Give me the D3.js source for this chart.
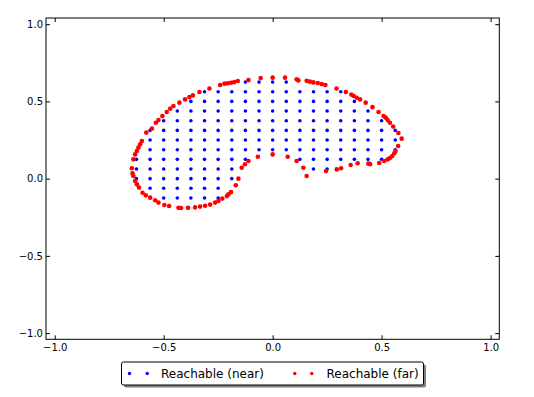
<!DOCTYPE html>
<html>
<head>
<meta charset="utf-8">
<script src="https://cdn.jsdelivr.net/npm/d3@7"></script>
<style>
  html, body { margin: 0; padding: 0; background: #fff; }
  svg { display: block; font-family: "DejaVu Sans", sans-serif; }
</style>
</head>
<body>
<svg id="chart" width="534" height="397"></svg>
<script>
// Tick values (same on both axes)
const tickValues = [-1.0, -0.5, 0.0, 0.5, 1.0];

// Reachable (near): grid columns and the y values present in each column
const nearX = [-0.625, -0.5625, -0.5, -0.4375, -0.375, -0.3125, -0.25, -0.1875, -0.125, -0.0625,
  0, 0.0625, 0.125, 0.1875, 0.25, 0.3125, 0.375, 0.4375, 0.5, 0.5625];
const nearY = [
  [0, 0.0625, 0.125],
  [-0.0625, 0, 0.0625, 0.125, 0.1875, 0.25, 0.3125],
  [-0.125, -0.0625, 0, 0.0625, 0.125, 0.1875, 0.25, 0.3125, 0.375],
  [-0.125, -0.0625, 0, 0.0625, 0.125, 0.1875, 0.25, 0.3125, 0.375, 0.4375],
  [-0.125, -0.0625, 0, 0.0625, 0.125, 0.1875, 0.25, 0.3125, 0.375, 0.4375, 0.5],
  [-0.125, -0.0625, 0, 0.0625, 0.125, 0.1875, 0.25, 0.3125, 0.375, 0.4375, 0.5, 0.5625],
  [-0.125, -0.0625, 0, 0.0625, 0.125, 0.1875, 0.25, 0.3125, 0.375, 0.4375, 0.5, 0.5625],
  [0, 0.0625, 0.125, 0.1875, 0.25, 0.3125, 0.375, 0.4375, 0.5, 0.5625],
  [0.125, 0.1875, 0.25, 0.3125, 0.375, 0.4375, 0.5, 0.5625, 0.625],
  [0.1875, 0.25, 0.3125, 0.375, 0.4375, 0.5, 0.5625, 0.625],
  [0.1875, 0.25, 0.3125, 0.375, 0.4375, 0.5, 0.5625, 0.625],
  [0.1875, 0.25, 0.3125, 0.375, 0.4375, 0.5, 0.5625, 0.625],
  [0.125, 0.1875, 0.25, 0.3125, 0.375, 0.4375, 0.5, 0.5625],
  [0.0625, 0.125, 0.1875, 0.25, 0.3125, 0.375, 0.4375, 0.5, 0.5625],
  [0.0625, 0.125, 0.1875, 0.25, 0.3125, 0.375, 0.4375, 0.5, 0.5625],
  [0.125, 0.1875, 0.25, 0.3125, 0.375, 0.4375, 0.5, 0.5625],
  [0.125, 0.1875, 0.25, 0.3125, 0.375, 0.4375, 0.5],
  [0.125, 0.1875, 0.25, 0.3125, 0.375, 0.4375],
  [0.125, 0.1875, 0.25, 0.3125, 0.375],
  [0.1875, 0.25, 0.3125]
];

// Reachable (far): boundary points, x and y
const farX = [-0.646, -0.639, -0.631, -0.623, -0.616, -0.608, -0.600, -0.580, -0.554, -0.536,
  -0.524, -0.506, -0.486, -0.470, -0.455, -0.428, -0.402, -0.382, -0.366, -0.336,
  -0.290, -0.241, -0.221, -0.206, -0.191, -0.176, -0.160, -0.111, -0.055, 0.000,
  0.057, 0.110, 0.118, 0.156, 0.171, 0.187, 0.207, 0.225, 0.242, 0.293,
  0.336, 0.361, 0.372, 0.386, 0.401, 0.427, 0.458, 0.486, 0.509, 0.519,
  0.528, 0.538, 0.553, 0.577, 0.592, 0.576, 0.564, 0.558, 0.549, 0.538,
  0.528, 0.512, 0.489, 0.447, 0.439, 0.390, 0.358, 0.314, 0.294, 0.245,
  0.156, 0.141, 0.110, 0.069, 0.000, -0.068, -0.111, -0.127, -0.142, -0.157,
  -0.169, -0.191, -0.203, -0.210, -0.231, -0.249, -0.264, -0.287, -0.310, -0.333,
  -0.356, -0.388, -0.420, -0.432, -0.475, -0.497, -0.524, -0.539, -0.562, -0.582,
  -0.597, -0.613, -0.623, -0.631, -0.639, -0.643];
const farY = [0.067, 0.125, 0.157, 0.179, 0.201, 0.222, 0.243, 0.298, 0.324, 0.362,
  0.379, 0.405, 0.431, 0.453, 0.470, 0.492, 0.513, 0.528, 0.539, 0.561,
  0.584, 0.606, 0.615, 0.617, 0.621, 0.625, 0.632, 0.638, 0.651, 0.654,
  0.654, 0.643, 0.636, 0.633, 0.628, 0.623, 0.619, 0.612, 0.606, 0.584,
  0.561, 0.544, 0.535, 0.524, 0.513, 0.492, 0.463, 0.431, 0.405, 0.395,
  0.379, 0.362, 0.337, 0.296, 0.259, 0.211, 0.179, 0.164, 0.146, 0.133,
  0.125, 0.114, 0.101, 0.094, 0.097, 0.100, 0.088, 0.067, 0.060, 0.049,
  0.017, 0.071, 0.114, 0.142, 0.157, 0.142, 0.114, 0.093, 0.071, 0.000,
  -0.043, -0.087, -0.102, -0.113, -0.129, -0.145, -0.155, -0.168, -0.175, -0.181,
  -0.186, -0.189, -0.190, -0.188, -0.177, -0.171, -0.155, -0.140, -0.123, -0.108,
  -0.091, -0.058, -0.037, -0.016, 0.017, 0.034];

const seriesNames = ['Reachable (near)', 'Reachable (far)'];
const seriesColors = ['#0000ff', '#ff0000'];

const svg = d3.select('#chart');
const plot = { left: 46, top: 18, right: 499.3, bottom: 339.3 };

const x = d3.scaleLinear().domain([-1.04, 1.04]).range([plot.left, plot.right]);
const y = d3.scaleLinear().domain([-1.04, 1.04]).range([plot.bottom, plot.top]);

const fmt = d => d3.format('.1f')(d).replace('-', '\u2212');

svg.append('rect').attr('width', 534).attr('height', 397).attr('fill', '#fff');

// Build point lists
const nearPts = [];
nearX.forEach((cx, i) => nearY[i].forEach(cy => nearPts.push([cx, cy])));
const farPts = farX.map((cx, i) => [cx, farY[i]]);

// Points
svg.append('g').selectAll('circle.near')
  .data(nearPts)
  .join('circle')
  .attr('class', 'near')
  .attr('cx', d => x(d[0]))
  .attr('cy', d => y(d[1]))
  .attr('r', 1.8)
  .attr('fill', seriesColors[0]);

svg.append('g').selectAll('circle.far')
  .data(farPts)
  .join('circle')
  .attr('class', 'far')
  .attr('cx', d => x(d[0]))
  .attr('cy', d => y(d[1]))
  .attr('r', 2.3)
  .attr('fill', seriesColors[1]);

// Axes, ticks inward on all four sides
const styleAxis = g => {
  g.select('.domain').remove();
  g.selectAll('line').attr('stroke', '#000').attr('stroke-width', 1);
  g.selectAll('text').attr('fill', '#000').attr('font-size', '10px')
    .attr('font-family', '"DejaVu Sans", sans-serif');
};

svg.append('g')
  .attr('transform', `translate(0,${plot.bottom})`)
  .call(d3.axisBottom(x).tickValues(tickValues).tickSizeInner(-4).tickSizeOuter(0).tickPadding(5).tickFormat(fmt))
  .call(styleAxis);

svg.append('g')
  .attr('transform', `translate(${plot.left},0)`)
  .call(d3.axisLeft(y).tickValues(tickValues).tickSizeInner(-4).tickSizeOuter(0).tickPadding(3).tickFormat(fmt))
  .call(styleAxis);

svg.append('g')
  .attr('transform', `translate(0,${plot.top})`)
  .call(d3.axisTop(x).tickValues(tickValues).tickSizeInner(-4).tickSizeOuter(0).tickFormat(''))
  .call(styleAxis);

svg.append('g')
  .attr('transform', `translate(${plot.right},0)`)
  .call(d3.axisRight(y).tickValues(tickValues).tickSizeInner(-4).tickSizeOuter(0).tickFormat(''))
  .call(styleAxis);

// Frame
svg.append('rect')
  .attr('x', plot.left).attr('y', plot.top)
  .attr('width', plot.right - plot.left).attr('height', plot.bottom - plot.top)
  .attr('fill', 'none').attr('stroke', '#000').attr('stroke-width', 1);

// Legend with shadow
const lg = { x: 121.5, y: 362, w: 302, h: 23 };
svg.append('rect')
  .attr('x', lg.x + 2.5).attr('y', lg.y + 2.5).attr('width', lg.w).attr('height', lg.h)
  .attr('rx', 2).attr('fill', '#808080');
svg.append('rect')
  .attr('x', lg.x).attr('y', lg.y).attr('width', lg.w).attr('height', lg.h)
  .attr('rx', 2).attr('fill', '#fff').attr('stroke', '#000').attr('stroke-width', 1);

const legendItems = [
  { name: seriesNames[0], color: seriesColors[0], dots: [129.5, 147.2], tx: 161 },
  { name: seriesNames[1], color: seriesColors[1], dots: [294.8, 311.8], tx: 326.5 }
];
const cyL = lg.y + lg.h / 2;
legendItems.forEach(item => {
  item.dots.forEach(dx => {
    svg.append('circle').attr('cx', dx).attr('cy', cyL).attr('r', 1.7).attr('fill', item.color);
  });
  svg.append('text')
    .attr('x', item.tx).attr('y', cyL)
    .attr('dy', '0.36em')
    .attr('font-size', '12px')
    .attr('fill', '#000')
    .text(item.name);
});
</script>
</body>
</html>
